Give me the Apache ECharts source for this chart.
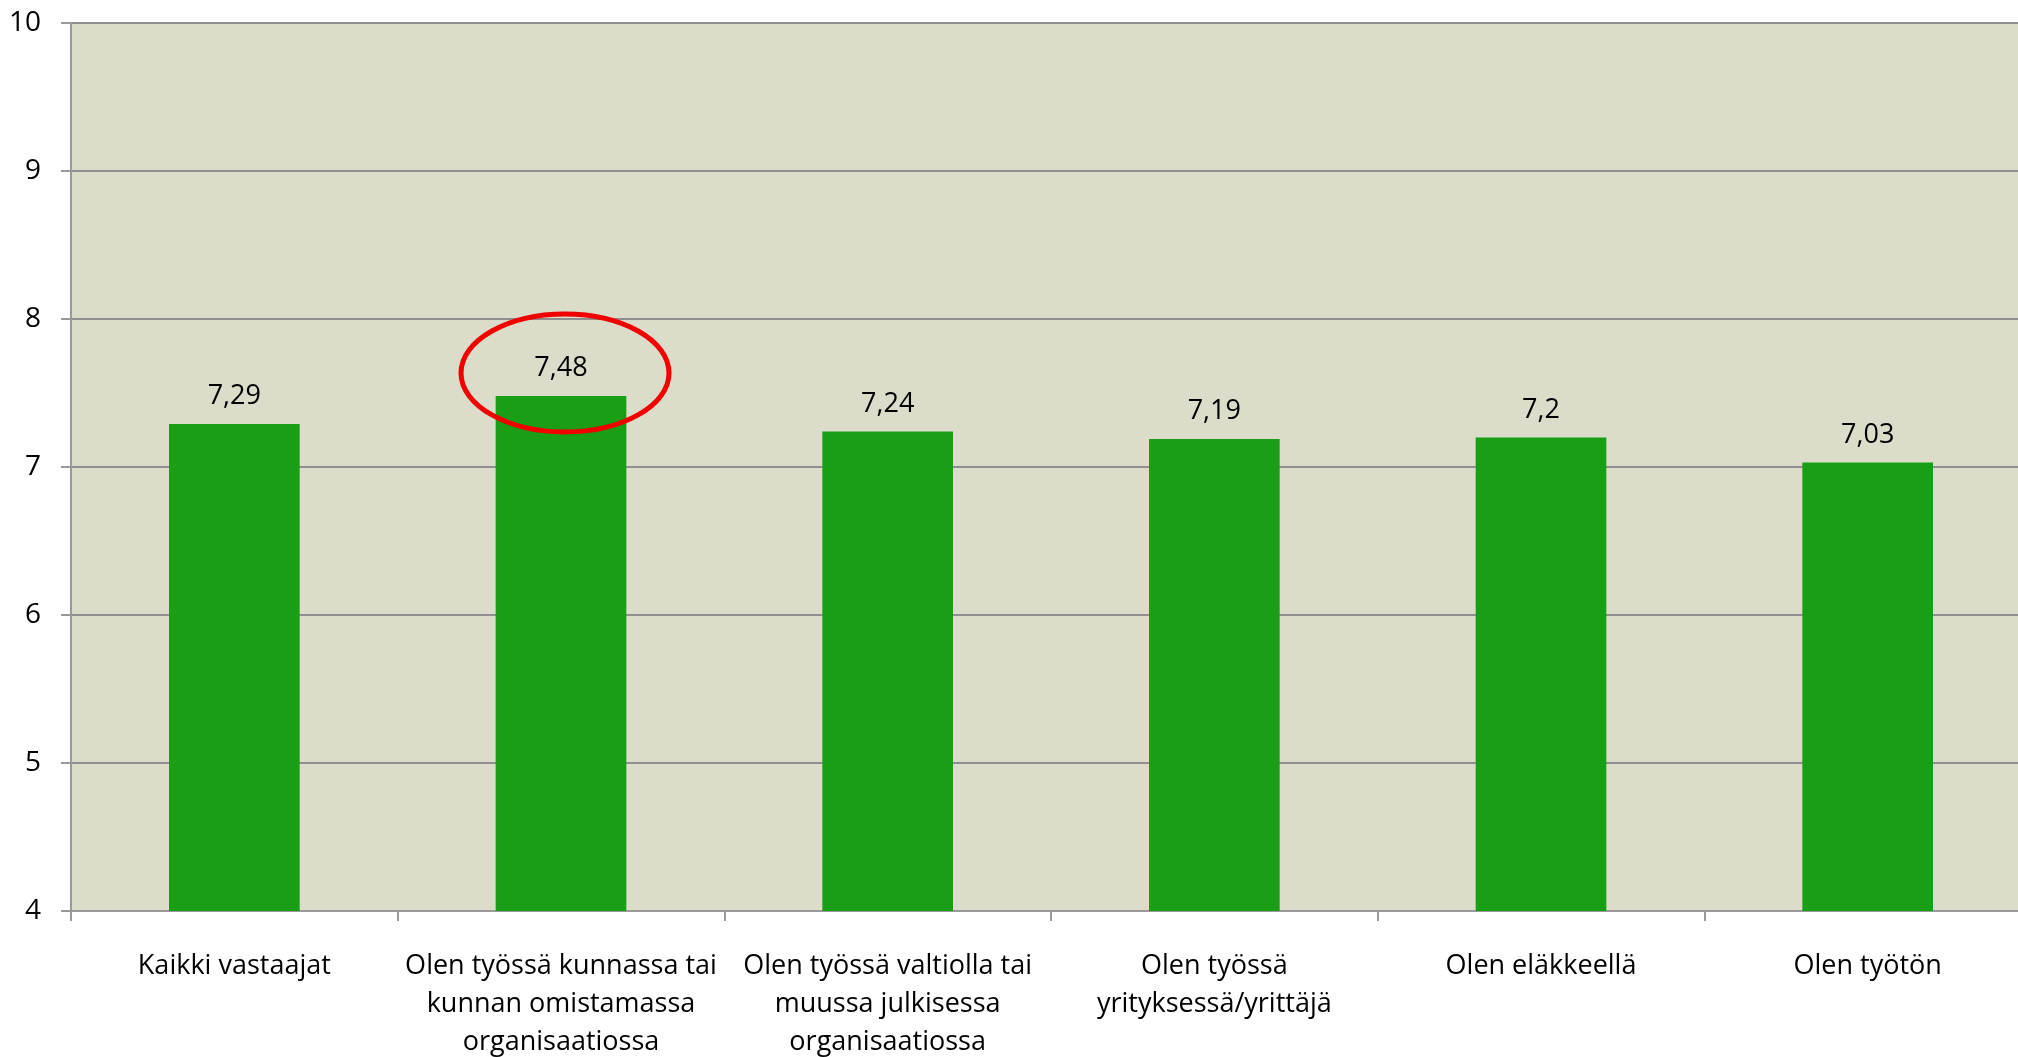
<!DOCTYPE html>
<html>
<head>
<meta charset="utf-8">
<script src="https://cdn.jsdelivr.net/npm/echarts@6/dist/echarts.min.js"></script>
<style>
  html, body { margin: 0; padding: 0; background: #fff; }
  #main { width: 2018px; height: 1057px; }
</style>
</head>
<body>
<div id="main"></div>
<script>
// kategoriat (rivitetty kuten alkuperäisessä)
var categories = [
  'Kaikki vastaajat',
  'Olen työssä kunnassa tai\nkunnan omistamassa\norganisaatiossa',
  'Olen työssä valtiolla tai\nmuussa julkisessa\norganisaatiossa',
  'Olen työssä\nyrityksessä/yrittäjä',
  'Olen eläkkeellä',
  'Olen työtön'
];
var values = [7.29, 7.48, 7.24, 7.19, 7.2, 7.03];
var yTicks = [4, 5, 6, 7, 8, 9, 10];
var highlightIndex = 1; // punainen ympyrä

var fontName = '"Open Sans", "DejaVu Sans", sans-serif';

var myChart = echarts.init(document.getElementById('main'));
myChart.setOption({
  animation: false,
  backgroundColor: '#ffffff',
  grid: {
    left: 71,
    top: 23,
    width: 1960,
    bottom: 146,
    outerBoundsMode: 'none',
    containLabel: false,
    show: true,
    backgroundColor: '#dbdcc9',
    borderWidth: 0
  },
  xAxis: {
    type: 'category',
    data: categories,
    axisLine: { lineStyle: { color: '#9a9a9a', width: 2 } },
    axisTick: { show: true, length: 10, lineStyle: { color: '#9a9a9a', width: 2 } },
    axisLabel: {
      interval: 0,
      margin: 36,
      color: '#000',
      fontFamily: fontName,
      fontSize: 27,
      lineHeight: 38,
      align: 'center'
    }
  },
  yAxis: {
    type: 'value',
    min: yTicks[0],
    max: yTicks[yTicks.length - 1],
    interval: 1,
    axisLine: { show: true, lineStyle: { color: '#9a9a9a', width: 2 } },
    axisTick: { show: true, length: 10, lineStyle: { color: '#9a9a9a', width: 2 } },
    splitLine: { lineStyle: { color: '#8f8f8f', width: 2 } },
    axisLabel: {
      margin: 30,
      color: '#000',
      fontFamily: fontName,
      fontSize: 28
    }
  },
  series: [{
    type: 'bar',
    data: values,
    barWidth: '40%',
    itemStyle: { color: '#199e16' },
    label: {
      show: true,
      position: 'top',
      distance: 14,
      color: '#000',
      fontFamily: fontName,
      fontSize: 27,
      formatter: function (p) { return String(p.value).replace('.', ','); }
    }
  }]
});

// punainen ellipsi korostetun arvon ympärille
var barTop = myChart.convertToPixel({ seriesIndex: 0 }, [highlightIndex, values[highlightIndex]]);
myChart.setOption({
  graphic: [{
    type: 'ellipse',
    shape: { cx: barTop[0] + 4, cy: barTop[1] - 23, rx: 104, ry: 59 },
    style: { fill: 'none', stroke: '#f20000', lineWidth: 5 },
    z: 100
  }]
});
</script>
</body>
</html>
